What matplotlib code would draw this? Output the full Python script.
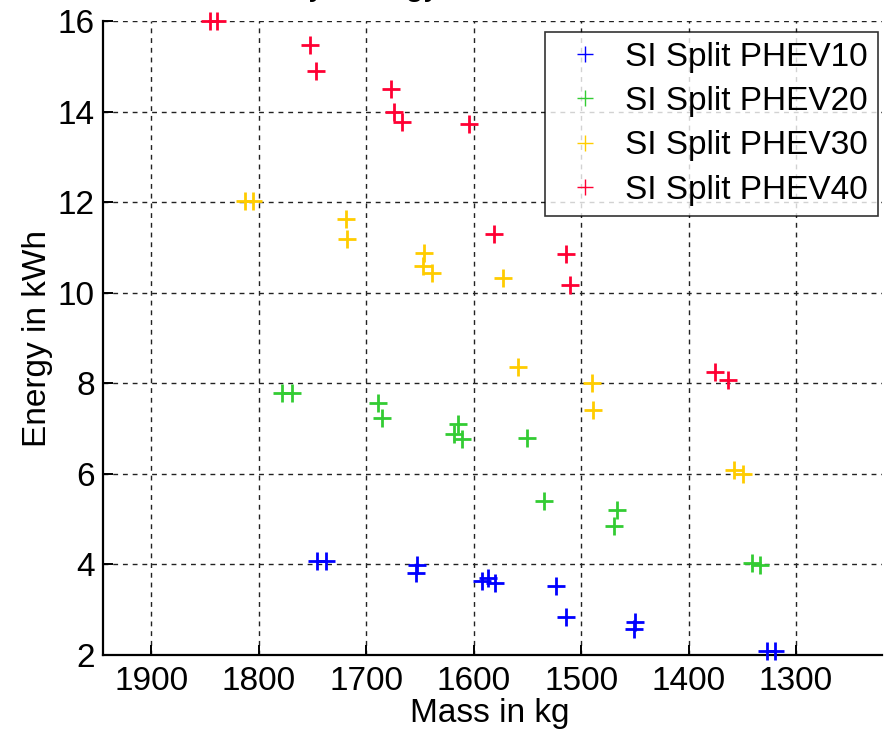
import matplotlib
matplotlib.use("Agg")
import matplotlib.pyplot as plt
from matplotlib.lines import Line2D

plt.rcParams["font.family"] = ["Liberation Sans", "DejaVu Sans"]

# vehicle mass (kg) and battery energy (kWh) per variant
mass_phev10 = [1746, 1737, 1653, 1654, 1592, 1587, 1580, 1523, 1514, 1450, 1451, 1327, 1320]
energy_phev10 = [4.07, 4.07, 3.98, 3.81, 3.63, 3.70, 3.59, 3.53, 2.83, 2.72, 2.58, 2.09, 2.09]

mass_phev20 = [1778, 1769, 1689, 1685, 1615, 1618, 1611, 1550, 1535, 1467, 1469, 1341, 1334]
energy_phev20 = [7.79, 7.79, 7.57, 7.24, 7.10, 6.87, 6.76, 6.79, 5.41, 5.21, 4.85, 4.03, 3.98]

mass_phev30 = [1813, 1805, 1719, 1718, 1646, 1647, 1639, 1573, 1559, 1490, 1489, 1358, 1349]
energy_phev30 = [12.03, 12.03, 11.63, 11.18, 10.88, 10.59, 10.43, 10.32, 8.36, 8.01, 7.42, 6.09, 5.99]

mass_phev40 = [1845, 1839, 1752, 1747, 1677, 1674, 1667, 1604, 1581, 1514, 1510, 1375, 1363]
energy_phev40 = [16.0, 16.0, 15.48, 14.89, 14.50, 14.00, 13.78, 13.73, 11.29, 10.85, 10.17, 8.24, 8.08]

labels = ["SI Split PHEV10", "SI Split PHEV20", "SI Split PHEV30", "SI Split PHEV40"]
colors = ["#0000ff", "#33cc33", "#ffcc00", "#ff0033"]

series = [(mass_phev10, energy_phev10), (mass_phev20, energy_phev20),
          (mass_phev30, energy_phev30), (mass_phev40, energy_phev40)]

FS = 24

fig = plt.figure(figsize=(8.9, 7.32), dpi=100)
ax = fig.add_axes([103 / 890, 1 - 655 / 732, 779 / 890, 634 / 732])

for (m, e), c in zip(series, colors):
    ax.plot(m, e, linestyle="none", marker="+", color=c, markersize=13, markeredgewidth=2.0,
            clip_on=False, zorder=3)

ax.set_xlim(1945, 1220)
ax.set_ylim(2, 16)
ax.set_xticks([1900, 1800, 1700, 1600, 1500, 1400, 1300])
ax.set_yticks([2, 4, 6, 8, 10, 12, 14, 16])

ax.grid(True, color="#222222", linestyle=(0, (3.5, 3.5)), linewidth=1.0)
ax.set_axisbelow(True)

for s in ["top", "right"]:
    ax.spines[s].set_visible(False)
for s in ["left", "bottom"]:
    ax.spines[s].set_linewidth(1.6)

ax.tick_params(axis="both", direction="in", length=7, width=1.4, labelsize=FS)
ax.tick_params(axis="x", pad=8)
ax.tick_params(axis="y", pad=6)

ax.set_xlabel("Mass in kg", fontsize=FS)
ax.set_ylabel("Energy in kWh", fontsize=FS)
ax.xaxis.set_label_coords(0.497, -0.068)
ax.yaxis.set_label_coords(-0.064, 0.5)

handles = [Line2D([], [], linestyle="none", marker="+", color=c, markersize=11,
                  markeredgewidth=1.0) for c in colors]
leg = ax.legend(handles, labels, loc="upper right", bbox_to_anchor=(0.995, 0.983),
                borderaxespad=0, fontsize=FS, frameon=True, fancybox=False,
                handlelength=1.8, handletextpad=0.3, borderpad=0.3, labelspacing=0.4)
leg.get_frame().set_edgecolor("black")
leg.get_frame().set_linewidth(1.2)

# title sits just above the figure edge
fig.text(220 / 890, 1 + 5 / 732, "Battery Energy vs. Vehicle Mass", fontsize=FS,
         ha="left", va="baseline")

fig.savefig("out.png", dpi=100)
